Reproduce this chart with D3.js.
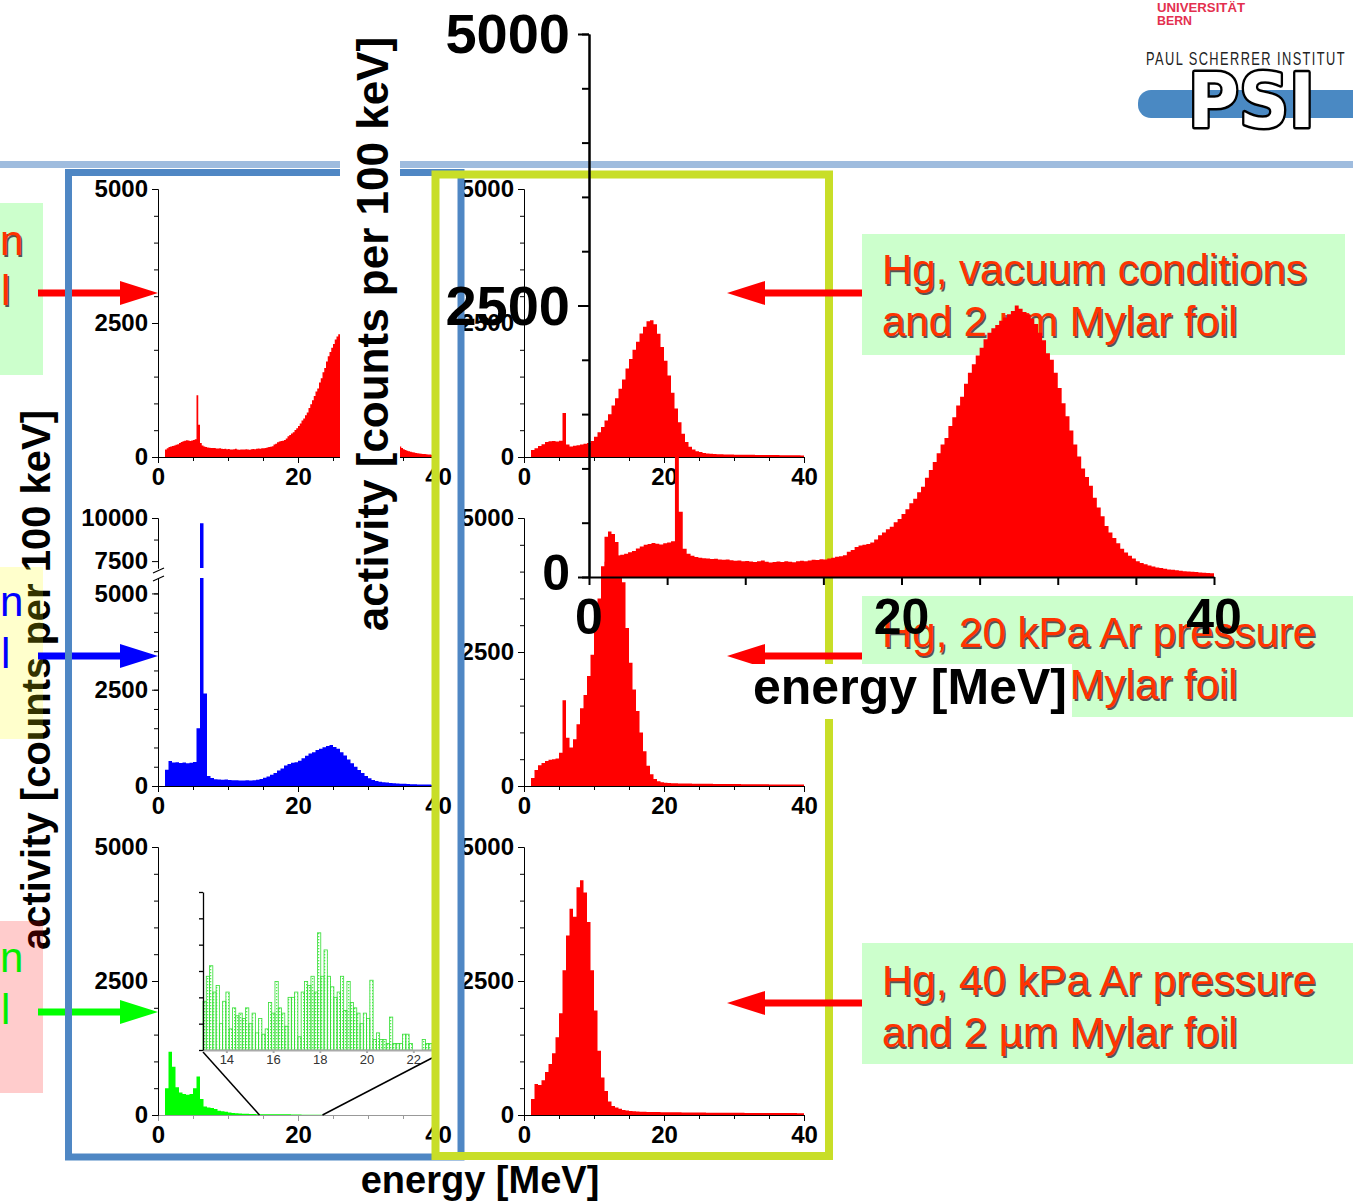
<!DOCTYPE html>
<html><head><meta charset="utf-8">
<script src="https://cdn.jsdelivr.net/npm/d3@7"></script>
<style>body{margin:0;background:#fff}svg{display:block}</style>
</head><body>
<script>
// ---------------- DATA ----------------
const E_MAX = 40;           // MeV, every series spans 0..40 MeV in equal bins
const X_MAJOR = [0, 20, 40];
const X_MINOR = [0, 5, 10, 15, 20, 25, 30, 35, 40];
const Y_MAJOR = [0, 2500, 5000];
const Y_MINOR = [0,500,1000,1500,2000,2500,3000,3500,4000,4500,5000];

// Hg, vacuum conditions (big overlay + top-left panel), 0.25 MeV bins
const vacuum = [0,0,0,0, 140,165,185,195, 205,215,228,240, 262,280,296,305,
 312,306,300,310, 318,330,1150,600, 260,215,195,185, 178,172,170,166,
 168,160,158,162, 155,150,152,146, 148,142,138,146, 152,140,134,138,
 142,138,146,140, 136,144,150,146, 152,158,156,164, 162,170,178,186,
 192,200,232,248, 276,290,298,304, 318,345,385,410, 440,462,505,535,
 580,625,680,720, 780,830,915,985, 1060,1140,1220,1280, 1390,1470,1580,1660,
 1780,1880,1960,2040, 2110,2190,2250,2290, 2320,2360,2390,2420, 2450,2500,2470,2440,
 2420,2380,2330,2250, 2180,2060,2000,1880, 1740,1600,1480,1350, 1220,1110,1000,920,
 840,730,640,560, 470,410,360,310, 260,225,195,170, 145,130,118,106,
 96,88,82,76, 70,66,62,58, 54,50,48,45, 42,40,37,35];

// left middle (blue, broken axis), 0.5 MeV bins
const blueSeries = [0,0,420,650,610,615,595,612,588,602,
 625,1500,9700,2400,262,205,176,172,163,170,
 158,152,150,146,140,147,141,152,162,182,
 212,248,292,338,405,455,535,568,605,618,
 655,722,788,845,878,935,968,1005,1040,1065,
 1015,965,875,795,688,592,498,418,338,262,
 202,158,132,112,100,90,81,72,66,60,
 56,51,48,45,42,40,38,36,35,33];

// left bottom (green), 0.5 MeV bins
const greenSeries = [0,0,500,1180,900,520,420,390,380,390,
 500,720,300,160,140,130,110,80,70,60,
 45,38,32,28,25,22,20,18,16,15,
 14,13,12,12,13,14,14,13,11,10,
 8,6,5,4,3,3,3,2,2,2,
 2,2,2,2,1,1,1,1,1,1,
 1,1,1,1,1,1,1,1,1,1,
 1,1,1,1,1,1,1,1,1,1];

// middle column (red), 0.5 MeV bins
const midTop = [0,0,130,165,205,240,278,292,300,288,
 305,820,232,198,212,218,232,245,262,300,
 378,462,558,682,798,962,1098,1272,1448,1652,
 1828,2002,2148,2305,2428,2532,2552,2478,2298,2052,
 1798,1522,1198,905,648,432,282,192,142,108,
 92,76,66,60,56,52,50,48,46,45,
 44,43,42,42,41,40,39,38,38,37,
 36,35,35,34,33,33,32,32,31,30];
const midMid = [0,0,150,300,385,430,468,492,500,512,
 620,1600,900,720,870,1150,1450,1700,2050,2450,
 3000,3500,4100,4650,4750,4700,4550,4300,3800,2950,
 2300,1800,1400,1000,650,380,220,130,90,70,
 60,56,52,50,48,47,46,45,44,43,
 42,41,40,40,39,38,38,37,36,36,
 35,35,34,34,33,33,32,32,31,31,
 30,30,29,29,28,28,27,27,26,26];
const midBot = [0,0,300,580,560,650,800,950,1150,1450,
 1900,2700,3350,3850,3700,4250,4380,4150,3600,2700,
 1950,1200,700,450,250,170,140,115,95,85,
 75,70,65,62,60,58,56,55,54,53,
 52,51,50,50,49,48,48,47,46,46,
 45,45,44,44,43,43,42,42,41,41,
 40,40,40,39,39,39,38,38,38,37,
 37,37,36,36,36,35,35,35,34,34];

// inset (green, 13-22.8 MeV), heights in tick units
const INSET_START = 13, INSET_BIN = 0.14;
const insetTicks = [14, 16, 18, 20, 22];
const insetValues = [1.85,2.8,3.2,2.2,2.45,1.0,1.85,2.2,0.8,1.6,
 1.3,1.4,1.2,1.6,1.0,1.4,0.65,1.2,0.6,0.8,
 1.8,1.4,2.6,1.6,1.4,0.9,2.0,2.0,2.2,0.5,
 2.2,2.6,2.45,2.8,2.2,4.45,2.8,3.8,2.8,2.4,
 2.0,2.2,2.8,1.5,2.6,1.8,1.6,1.4,1.0,1.4,
 1.2,2.65,0.4,0.65,0.4,0.4,0.25,1.25,0.25,0.25,
 0.25,0.6,0.6,0.25,0,0,0,0.4,0.25,0.25];

// broken axis of blue panel
const blueLowerTicks = [0, 2500, 5000];
const blueUpperTicks = [7500, 10000];

// texts
const yLabel = "activity [counts per 100 keV]";
const xLabel = "energy [MeV]";
const boxTexts = [
  ["Hg, vacuum conditions", "and 2 µm Mylar foil"],
  ["Hg, 20 kPa Ar pressure", "and 2 µm Mylar foil"],
  ["Hg, 40 kPa Ar pressure", "and 2 µm Mylar foil"]
];

// ---------------- DRAW ----------------
const W = 1353, H = 1202;
const FF = "'Liberation Sans', Arial, Helvetica, sans-serif";
const svg = d3.select("body").append("svg").attr("width", W).attr("height", H).attr("font-family", FF);
const defs = svg.append("defs");
defs.append("pattern").attr("id", "dots").attr("width", 3).attr("height", 3)
  .attr("patternUnits", "userSpaceOnUse")
  .append("rect").attr("width", 1.3).attr("height", 1.3).attr("fill", "#55ee55");

// header line + logos
svg.append("rect").attr("x", 0).attr("y", 161).attr("width", W).attr("height", 7).attr("fill", "#9fbcde");
svg.append("text").attr("x", 1157).attr("y", 12).attr("font-size", 13).attr("font-weight", "bold")
  .attr("textLength", 88).attr("lengthAdjust", "spacingAndGlyphs").attr("fill", "#e3304f").text("UNIVERSITÄT");
svg.append("text").attr("x", 1157).attr("y", 25).attr("font-size", 13).attr("font-weight", "bold")
  .attr("textLength", 35).attr("lengthAdjust", "spacingAndGlyphs").attr("fill", "#e3304f").text("BERN");
svg.append("text").attr("x", 1146).attr("y", 65).attr("font-size", 18)
  .attr("textLength", 200).attr("lengthAdjust", "spacingAndGlyphs")
  .attr("letter-spacing", 2)
  .attr("fill", "#222").text("PAUL SCHERRER INSTITUT");
svg.append("rect").attr("x", 1138).attr("y", 90).attr("width", 240).attr("height", 28).attr("rx", 13).attr("fill", "#4a89c3");
svg.append("text").attr("x", 1188).attr("y", 127).attr("font-family", "'DejaVu Sans',sans-serif")
  .attr("font-weight", "bold").attr("font-size", 74).attr("textLength", 127).attr("lengthAdjust", "spacingAndGlyphs")
  .attr("fill", "#fff").attr("stroke", "#000").attr("stroke-width", 5).attr("stroke-linejoin", "round")
  .attr("paint-order", "stroke").text("PSI");

function axisG(parent, axis, tx, ty, fs, color, sw) {
  const a = parent.append("g").attr("transform", `translate(${tx},${ty})`).call(axis);
  a.attr("font-family", FF).attr("font-size", fs).attr("font-weight", "bold");
  a.selectAll("line").attr("stroke", color || "#000").attr("stroke-width", sw || 1);
  a.select(".domain").attr("stroke", color || "#000").attr("stroke-width", sw || 1);
  a.selectAll("text").attr("fill", "#000");
  return a;
}
function points(data) {
  const bw = E_MAX / data.length;
  const p = data.map((v, i) => ({ e: i * bw, v }));
  p.push({ e: E_MAX, v: data[data.length - 1] });
  return p;
}
const fmt = d3.format("d");

function panel(x0, y0, data, color, xColor) {
  const g = svg.append("g");
  const x = d3.scaleLinear().domain([0, E_MAX]).range([x0, x0 + 280]);
  const y = d3.scaleLinear().domain([0, 5000]).range([y0, y0 - 268]);
  g.append("path").datum(points(data)).attr("fill", color)
    .attr("d", d3.area().curve(d3.curveStepAfter).x(d => x(d.e)).y0(y(0)).y1(d => y(d.v)));
  axisG(g, d3.axisBottom(x).tickValues(X_MINOR).tickSize(4).tickFormat("").tickSizeOuter(0), 0, y0, 24, xColor);
  axisG(g, d3.axisBottom(x).tickValues(X_MAJOR).tickSize(6).tickPadding(5).tickFormat(fmt).tickSizeOuter(0), 0, y0, 24, xColor);
  axisG(g, d3.axisLeft(y).tickValues(Y_MINOR).tickSize(4).tickFormat("").tickSizeOuter(0), x0, 0, 24);
  axisG(g, d3.axisLeft(y).tickValues(Y_MAJOR).tickSize(6).tickPadding(4).tickFormat(fmt).tickSizeOuter(0), x0, 0, 24);
  return { g, x, y };
}

// left column
panel(158, 457, vacuum, "#ff0000");
// blue broken-axis panel
(function () {
  const g = svg.append("g");
  const x = d3.scaleLinear().domain([0, E_MAX]).range([158, 438]);
  const yL = d3.scaleLinear().domain([0, 5400]).range([786, 578]);
  const yU = d3.scaleLinear().domain([7100, 10000]).range([568, 518]);
  const pts = points(blueSeries);
  g.append("path").datum(pts).attr("fill", "#0000ff")
    .attr("d", d3.area().curve(d3.curveStepAfter).x(d => x(d.e)).y0(yL(0)).y1(d => yL(Math.min(d.v, 5400))));
  g.append("path").datum(pts).attr("fill", "#0000ff")
    .attr("d", d3.area().curve(d3.curveStepAfter).x(d => x(d.e)).y0(yU(7100)).y1(d => yU(Math.max(d.v, 7100))));
  axisG(g, d3.axisBottom(x).tickValues(X_MINOR).tickSize(4).tickFormat("").tickSizeOuter(0), 0, 786, 24);
  axisG(g, d3.axisBottom(x).tickValues(X_MAJOR).tickSize(6).tickPadding(5).tickFormat(fmt).tickSizeOuter(0), 0, 786, 24);
  axisG(g, d3.axisLeft(yL).tickValues(Y_MINOR).tickSize(4).tickFormat("").tickSizeOuter(0), 158, 0, 24);
  axisG(g, d3.axisLeft(yL).tickValues(blueLowerTicks).tickSize(6).tickPadding(4).tickFormat(fmt).tickSizeOuter(0), 158, 0, 24);
  axisG(g, d3.axisLeft(yU).tickValues([8750]).tickSize(4).tickFormat("").tickSizeOuter(0), 158, 0, 24);
  axisG(g, d3.axisLeft(yU).tickValues(blueUpperTicks).tickSize(6).tickPadding(4).tickFormat(fmt).tickSizeOuter(0), 158, 0, 24);
  [yU(7100) + 3, yL(5400) + 1].forEach(yy => {
    g.append("line").attr("x1", 153).attr("x2", 164).attr("y1", yy + 2).attr("y2", yy - 3).attr("stroke", "#000").attr("stroke-width", 1.2);
  });
})();
const gp = panel(158, 1115, greenSeries, "#00ff00", "#999");
// inset
(function () {
  const g = svg.append("g");
  const ix = d3.scaleLinear().domain([13, 22.8]).range([203, 432]);
  const iy = d3.scaleLinear().domain([0, 6]).range([1050, 892]);
  const bw = ix(INSET_START + INSET_BIN) - ix(INSET_START);
  g.selectAll("rect.bar").data(insetValues).join("rect")
    .attr("x", (d, i) => ix(INSET_START + i * INSET_BIN)).attr("width", bw)
    .attr("y", d => iy(d)).attr("height", d => iy(0) - iy(d))
    .attr("fill", "url(#dots)").attr("stroke", d => d > 0 ? "#33dd33" : "none").attr("stroke-width", 0.8);
  const ax = axisG(g, d3.axisBottom(ix).tickValues(insetTicks).tickSize(3).tickPadding(2).tickFormat(fmt).tickSizeOuter(0), 0, 1050, 13, "#aaa", 2);
  ax.attr("font-weight", "normal").selectAll("text").attr("fill", "#333");
  axisG(g, d3.axisLeft(iy).tickValues([0,1,2,3,4,5,6]).tickSize(4).tickFormat("").tickSizeOuter(0), 203, 0, 13, "#000", 1.3);
  g.append("line").attr("x1", ix(13)).attr("y1", iy(0) + 2).attr("x2", gp.x(14.5)).attr("y2", gp.y(0))
    .attr("stroke", "#000").attr("stroke-width", 1.5);
  g.append("line").attr("x1", ix(22.8)).attr("y1", iy(0) + 8).attr("x2", gp.x(23.5)).attr("y2", gp.y(0))
    .attr("stroke", "#000").attr("stroke-width", 1.5);
})();

// middle column
panel(524, 457, midTop, "#ff0000");
panel(524, 786, midMid, "#ff0000");
panel(524, 1115, midBot, "#ff0000");

// left rotated label and side boxes
svg.append("text").attr("transform", "translate(50,680) rotate(-90)").attr("text-anchor", "middle")
  .attr("font-size", 40).attr("font-weight", "bold").attr("fill", "#000").text(yLabel);
const sideBoxes = [
  { y: 203, fill: "rgba(0,255,0,0.2)", color: "#ff3300", shadow: true, b1: 255, b2: 305, ay: 293, arrow: "#ff0000" },
  { y: 567, fill: "rgba(255,255,0,0.2)", color: "#0000ff", shadow: false, b1: 616, b2: 668, ay: 656, arrow: "#0000ff" },
  { y: 921, fill: "rgba(255,0,0,0.2)", color: "#00ee00", shadow: false, b1: 972, b2: 1024, ay: 1012, arrow: "#00ff00" }
];
function arrowPath(tail, tip, y) {
  const dir = Math.sign(tip - tail), hb = tip - dir * 38;
  return `M${tail},${y - 3.5}L${hb},${y - 3.5}L${hb},${y - 12}L${tip},${y}L${hb},${y + 12}L${hb},${y + 3.5}L${tail},${y + 3.5}Z`;
}
sideBoxes.forEach(b => {
  svg.append("rect").attr("x", 0).attr("y", b.y).attr("width", 43).attr("height", 172).attr("fill", b.fill);
  [["n", 0, b.b1], ["l", 1, b.b2]].forEach(([t, xx, yy]) => {
    if (b.shadow) svg.append("text").attr("x", xx + 1.5).attr("y", yy + 1.5).attr("font-size", 42).attr("fill", "#555").text(t);
    svg.append("text").attr("x", xx).attr("y", yy).attr("font-size", 42).attr("fill", b.color).text(t);
  });
  svg.append("path").attr("d", arrowPath(38, 158, b.ay)).attr("fill", b.arrow);
});

// frames
svg.append("rect").attr("x", 68.5).attr("y", 172.5).attr("width", 392.5).attr("height", 984.5)
  .attr("fill", "none").attr("stroke", "#4f87c4").attr("stroke-width", 7);
svg.append("rect").attr("x", 435.5).attr("y", 174.5).attr("width", 393.5).attr("height", 981.5)
  .attr("fill", "none").attr("stroke", "#c8de28").attr("stroke-width", 8);

// overlay label with its white backing
svg.append("rect").attr("x", 340).attr("y", 0).attr("width", 60).attr("height", 462).attr("fill", "#fff");
svg.append("text").attr("transform", "translate(388,334) rotate(-90)").attr("text-anchor", "middle")
  .attr("font-size", 44).attr("font-weight", "bold").attr("fill", "#000").text(yLabel);

// right text boxes
const boxGeom = [{ y: 234, w: 483, b: 284 }, { y: 596, w: 491, b: 647 }, { y: 943, w: 491, b: 995 }];
boxGeom.forEach((bg, k) => {
  svg.append("rect").attr("x", 862).attr("y", bg.y).attr("width", bg.w).attr("height", 121).attr("fill", "#ccffcc");
  boxTexts[k].forEach((line, j) => {
    const yy = bg.b + j * 52;
    svg.append("text").attr("x", 883.5).attr("y", yy + 1.5).attr("font-size", 42).attr("fill", "#555").text(line);
    svg.append("text").attr("x", 882).attr("y", yy).attr("font-size", 42).attr("fill", "#ff3300").text(line);
  });
});

// overlay chart
const ox = d3.scaleLinear().domain([0, E_MAX]).range([589, 1214]);
const oy = d3.scaleLinear().domain([0, 5000]).range([577, 34]);
const og = svg.append("g");
og.append("path").datum(points(vacuum)).attr("fill", "#ff0000")
  .attr("d", d3.area().curve(d3.curveStepAfter).x(d => ox(d.e)).y0(oy(0)).y1(d => oy(d.v)));

// right arrows
[293, 656, 1003].forEach(ay => svg.append("path").attr("d", arrowPath(862, 727, ay)).attr("fill", "#ff0000"));

// overlay axes
axisG(og, d3.axisLeft(oy).tickValues(Y_MINOR).tickSize(7).tickFormat("").tickSizeOuter(0), 589, 0, 10, "#000", 2);
axisG(og, d3.axisLeft(oy).tickValues(Y_MAJOR).tickSize(11).tickFormat("").tickSizeOuter(0), 589, 0, 10, "#000", 2);
axisG(og, d3.axisBottom(ox).tickValues(X_MINOR).tickSize(8).tickFormat("").tickSizeOuter(0), 0, 577, 10, "#000", 2);

// axis titles
svg.append("text").attr("x", 480).attr("y", 1193).attr("text-anchor", "middle").attr("font-size", 38)
  .attr("font-weight", "bold").attr("fill", "#000").text(xLabel);
svg.append("rect").attr("x", 745).attr("y", 664).attr("width", 327).attr("height", 55).attr("fill", "#fff");
svg.append("text").attr("x", 910).attr("y", 704).attr("text-anchor", "middle").attr("font-size", 50)
  .attr("font-weight", "bold").attr("fill", "#000").text(xLabel);

// overlay tick labels
Y_MAJOR.forEach(v => {
  const fs = v === 0 ? 50 : 56;
  svg.append("text").attr("x", 570).attr("y", oy(v) + (v === 0 ? 13 : 0.34 * fs)).attr("text-anchor", "end")
    .attr("font-size", fs).attr("font-weight", "bold").attr("fill", "#000").text(fmt(v));
});
X_MAJOR.forEach(v => {
  svg.append("text").attr("x", ox(v)).attr("y", 634).attr("text-anchor", "middle")
    .attr("font-size", 50).attr("font-weight", "bold").attr("fill", "#000").text(fmt(v));
});
</script>
</body></html>
